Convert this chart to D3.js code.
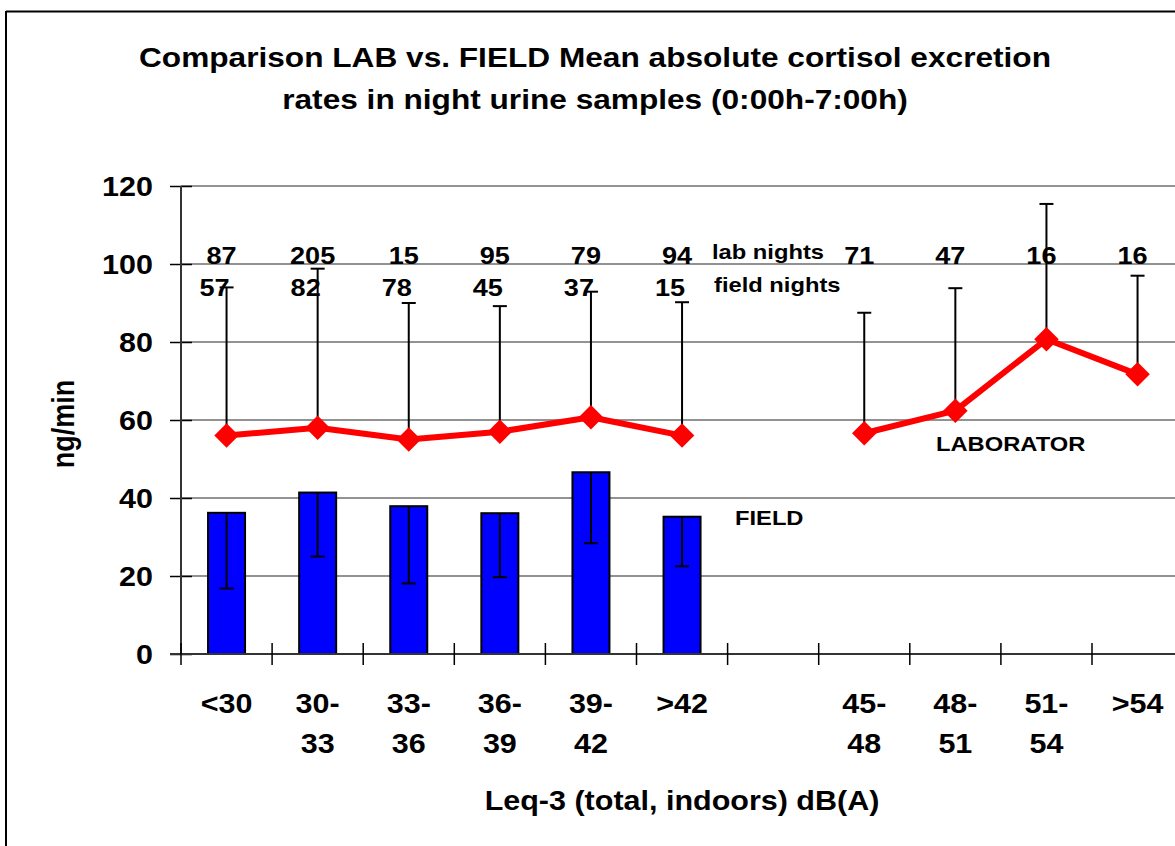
<!DOCTYPE html>
<html>
<head>
<meta charset="utf-8">
<script src="https://cdn.jsdelivr.net/npm/d3@7"></script>
<style>
  html, body { margin: 0; padding: 0; background: #fff; }
  svg { display: block; }
  text { font-family: "Liberation Sans", Arial, sans-serif; font-weight: bold; fill: #000; }
</style>
</head>
<body>
<svg id="chart" width="1175" height="846"></svg>
<script>
// ---------- data ----------
const categories = ["<30", "30-33", "33-36", "36-39", "39-42", ">42", "", "45-48", "48-51", "51-54", ">54"];
const labMean   = [56, 58, 55, 57, 60.7, 56, null, 56.6, 62.4, 80.7, 71.7];
const labUpper  = [94, 98.8, 90, 89.2, 92.9, 90.2, null, 87.5, 93.8, 115.4, 97];
const fieldMean  = [36.2, 41.4, 37.9, 36.1, 46.6, 35.2, null, null, null, null, null];
const fieldLower = [16.8, 25, 18.1, 19.7, 28.4, 22.5, null, null, null, null, null];
const labNights   = [87, 205, 15, 95, 79, 94, null, 71, 47, 16, 16];
const fieldNights = [57, 82, 78, 45, 37, 15, null, null, null, null, null];
const yTicks = [0, 20, 40, 60, 80, 100, 120];
const titleLines = ["Comparison LAB vs. FIELD Mean absolute cortisol excretion",
                    "rates in night urine samples (0:00h-7:00h)"];
const xTitle = "Leq-3 (total, indoors) dB(A)";
const yTitle = "ng/min";

// ---------- layout ----------
const W = 1175, H = 846;
const SX = 1.13; // horizontal stretch of the original rendering
const plot = { left: 181, top: 186, bottom: 654, step: 91.1 };
const svg = d3.select("#chart");

const x = d3.scaleBand().domain(d3.range(categories.length))
  .range([plot.left, plot.left + plot.step * categories.length]).padding(0);
const y = d3.scaleLinear().domain([0, 120]).range([plot.bottom, plot.top]);
const cx = i => x(i) + x.bandwidth() / 2;

function txt(parent, px, py, s, size, anchor, rotate) {
  const g = parent.append("g")
    .attr("transform", `translate(${px},${py}) scale(${SX},1)` + (rotate ? ` rotate(${rotate})` : ""));
  g.append("text").attr("x", 0).attr("y", 0)
    .attr("text-anchor", anchor || "middle")
    .style("font-size", size + "px").text(s);
  return g;
}

// frame
svg.append("line").attr("x1", 6).attr("x2", W).attr("y1", 11.5).attr("y2", 11.5)
  .attr("stroke", "#000").attr("stroke-width", 2);
svg.append("line").attr("x1", 6).attr("x2", 6).attr("y1", 11).attr("y2", H)
  .attr("stroke", "#000").attr("stroke-width", 2);

// title
titleLines.forEach((t, i) => txt(svg, 595, 67 + i * 42, t, 28, "middle"));

// gridlines
svg.append("g").selectAll("line").data(yTicks.filter(d => d > 0)).join("line")
  .attr("x1", plot.left).attr("x2", W)
  .attr("y1", d => y(d)).attr("y2", d => y(d))
  .attr("stroke", "#6e6e6e").attr("stroke-width", 1.5);

// y axis via d3
const yAxis = svg.append("g").attr("transform", `translate(${plot.left},0)`)
  .call(d3.axisLeft(y).tickValues(yTicks).tickSize(11).tickFormat(""));
yAxis.select(".domain").remove();
yAxis.selectAll(".tick line").attr("x1", -11).attr("x2", 11).attr("stroke", "#000").attr("stroke-width", 1.5);
svg.append("line").attr("x1", plot.left).attr("x2", plot.left)
  .attr("y1", plot.top).attr("y2", plot.bottom).attr("stroke", "#333").attr("stroke-width", 2);
yTicks.forEach(v => txt(svg, 153, y(v) + 10, String(v), 27, "end"));

// bars
const barW = 37;
const fieldIdx = d3.range(categories.length).filter(i => fieldMean[i] != null);
svg.append("g").selectAll("rect").data(fieldIdx).join("rect")
  .attr("x", i => cx(i) - barW / 2).attr("width", barW)
  .attr("y", i => y(fieldMean[i])).attr("height", i => y(0) - y(fieldMean[i]))
  .attr("fill", "#0000ff").attr("stroke", "#000").attr("stroke-width", 2);

// field error bars (lower only)
const capW = 14;
const feb = svg.append("g").attr("stroke", "#000").attr("stroke-width", 2);
fieldIdx.forEach(i => {
  feb.append("line").attr("x1", cx(i)).attr("x2", cx(i)).attr("y1", y(fieldMean[i])).attr("y2", y(fieldLower[i]));
  feb.append("line").attr("x1", cx(i) - capW / 2).attr("x2", cx(i) + capW / 2)
    .attr("y1", y(fieldLower[i])).attr("y2", y(fieldLower[i]));
});

// x axis
svg.append("line").attr("x1", 170).attr("x2", W).attr("y1", plot.bottom).attr("y2", plot.bottom)
  .attr("stroke", "#333").attr("stroke-width", 2);
const bounds = d3.range(categories.length + 1).map(i => plot.left + i * x.step());
svg.append("g").selectAll("line").data(bounds).join("line")
  .attr("x1", d => d).attr("x2", d => d).attr("y1", plot.bottom - 11).attr("y2", plot.bottom + 11)
  .attr("stroke", "#000").attr("stroke-width", 1.5);
categories.forEach((c, i) => {
  if (!c) return;
  const k = c.indexOf("-");
  if (k < 0) txt(svg, cx(i), 713, c, 27, "middle");
  else {
    txt(svg, cx(i), 713, c.slice(0, k + 1), 27, "middle");
    txt(svg, cx(i), 753, c.slice(k + 1), 27, "middle");
  }
});

// lab error bars (upper only)
const labIdx = d3.range(categories.length).filter(i => labMean[i] != null);
const leb = svg.append("g").attr("stroke", "#000").attr("stroke-width", 2);
labIdx.forEach(i => {
  leb.append("line").attr("x1", cx(i)).attr("x2", cx(i)).attr("y1", y(labMean[i])).attr("y2", y(labUpper[i]));
  leb.append("line").attr("x1", cx(i) - capW / 2).attr("x2", cx(i) + capW / 2)
    .attr("y1", y(labUpper[i])).attr("y2", y(labUpper[i]));
});

// lab line
const line = d3.line().defined(i => labMean[i] != null).x(i => cx(i)).y(i => y(labMean[i]));
svg.append("path").datum(d3.range(categories.length)).attr("d", line)
  .attr("fill", "none").attr("stroke", "#ff0000").attr("stroke-width", 6).attr("stroke-linejoin", "round");
svg.append("g").selectAll("path").data(labIdx).join("path")
  .attr("d", d3.symbol().type(d3.symbolSquare).size(300))
  .attr("transform", i => `translate(${cx(i)},${y(labMean[i])}) rotate(45)`)
  .attr("fill", "#ff0000");

// night counts
labIdx.forEach(i => { if (labNights[i] != null) txt(svg, cx(i) - 5, 264, String(labNights[i]), 24, "middle"); });
fieldIdx.forEach(i => { if (fieldNights[i] != null) txt(svg, cx(i) - 12, 296, String(fieldNights[i]), 24, "middle"); });
txt(svg, 712, 259, "lab nights", 21, "start");
txt(svg, 714, 292, "field nights", 21, "start");

// series labels
txt(svg, 936, 451, "LABORATOR", 21, "start");
txt(svg, 735, 525, "FIELD", 21, "start");

// axis titles
txt(svg, 682, 810, xTitle, 27, "middle");
txt(svg, 74, 424, yTitle, 27, "middle", -90);
</script>
</body>
</html>
